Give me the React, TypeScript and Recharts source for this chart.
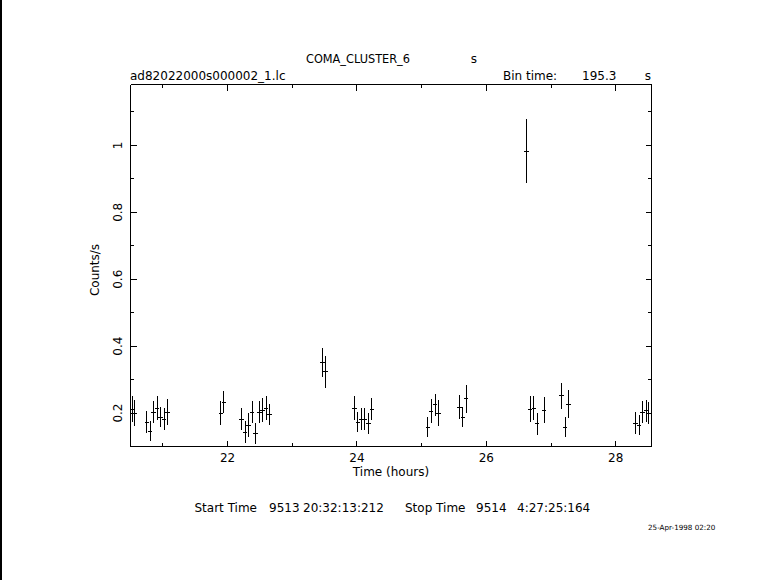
import React from "react";
import { ComposedChart, Scatter, ErrorBar, XAxis, YAxis } from "recharts";

// Light curve: time (hours), count rate (counts/s), 1-sigma error
const TIME_H = [
  20.529, 20.555, 20.751, 20.802, 20.853, 20.91, 20.961, 21.019, 21.07,
  21.895, 21.941,
  22.213, 22.27, 22.321, 22.379, 22.43, 22.491, 22.538, 22.595, 22.646,
  23.465, 23.512,
  23.96, 24.012, 24.063, 24.114, 24.176, 24.229,
  25.094, 25.145, 25.207, 25.258,
  25.583, 25.635, 25.686,
  26.618, 26.675, 26.733, 26.784, 26.892,
  27.159, 27.216, 27.267,
  28.303, 28.36, 28.411, 28.468, 28.499,
];
const RATE = [
  0.212, 0.2, 0.173, 0.146, 0.203, 0.215, 0.188, 0.182, 0.203,
  0.2, 0.233,
  0.182, 0.143, 0.164, 0.203, 0.138, 0.203, 0.209, 0.215, 0.195,
  0.352, 0.323,
  0.215, 0.173, 0.182, 0.182, 0.168, 0.212,
  0.158, 0.206, 0.225, 0.2,
  0.218, 0.188, 0.242,
  0.983, 0.212, 0.215, 0.168, 0.209,
  0.252, 0.158, 0.227,
  0.17, 0.163, 0.203, 0.207, 0.2,
];
const RATE_ERR = [
  0.039, 0.038, 0.032, 0.029, 0.034, 0.035, 0.031, 0.032, 0.04,
  0.036, 0.033,
  0.034, 0.033, 0.035, 0.033, 0.031, 0.033, 0.035, 0.035, 0.032,
  0.043, 0.047,
  0.035, 0.03, 0.032, 0.032, 0.031, 0.032,
  0.029, 0.037, 0.033, 0.039,
  0.035, 0.03, 0.042,
  0.096, 0.04, 0.035, 0.033, 0.038,
  0.039, 0.029, 0.041,
  0.032, 0.03, 0.033, 0.033, 0.033,
];
const HALF_BIN_H = 0.034;

const X_DOMAIN = [20.5, 28.553];
const Y_DOMAIN = [0.1, 1.182];
const X_MAJOR = [22, 24, 26, 28];
const X_MINOR = [21, 23, 25, 27];
const Y_MAJOR = [0.2, 0.4, 0.6, 0.8, 1];
const Y_MINOR = [0.3, 0.5, 0.7, 0.9, 1.1];
const X_TICKS = [...X_MINOR, ...X_MAJOR].sort((a, b) => a - b);
const Y_TICKS = [...Y_MINOR, ...Y_MAJOR].sort((a, b) => a - b);

const data = TIME_H.map((t, i) => ({
  t,
  rate: RATE[i],
  err: RATE_ERR[i],
  xerr: HALF_BIN_H,
}));

const FONT = "'DejaVu Sans', sans-serif";
const MAJOR_LEN = 6;
const MINOR_LEN = 3.5;

const isMajor = (v: number, list: number[]) => list.some((m) => Math.abs(m - v) < 1e-9);

const makeTick = (side: "left" | "right" | "top" | "bottom", majors: number[], label: boolean) =>
  (props: any) => {
    const { x, y, payload } = props;
    const v = payload.value;
    const len = isMajor(v, majors) ? MAJOR_LEN : MINOR_LEN;
    let line;
    if (side === "left") line = <line x1={x} x2={x + len} y1={y} y2={y} stroke="#000" />;
    else if (side === "right") line = <line x1={x} x2={x - len} y1={y} y2={y} stroke="#000" />;
    else if (side === "bottom") line = <line x1={x} x2={x} y1={y} y2={y - len} stroke="#000" />;
    else line = <line x1={x} x2={x} y1={y} y2={y + len} stroke="#000" />;
    let txt = null;
    if (label && isMajor(v, majors)) {
      if (side === "left") {
        const lx = x - 12.5;
        txt = (
          <text x={lx} y={y} transform={`rotate(-90 ${lx} ${y})`} textAnchor="middle"
            dominantBaseline="central" fontFamily={FONT} fontSize={12} fill="#000">
            {String(v)}
          </text>
        );
      } else if (side === "bottom") {
        txt = (
          <text x={x} y={y + 11.5} textAnchor="middle" dominantBaseline="central"
            fontFamily={FONT} fontSize={12} fill="#000">
            {String(v)}
          </text>
        );
      }
    }
    return (
      <g>
        {line}
        {txt}
      </g>
    );
  };

const axisCommon = {
  type: "number" as const,
  allowDataOverflow: true,
  axisLine: { stroke: "#000", strokeWidth: 1 },
  tickLine: false,
  tickSize: 0,
  tickMargin: 0,
  interval: 0 as const,
};

const T = (p: any) => (
  <text fontFamily={FONT} fontSize={12} fill="#000" dominantBaseline="central" {...p} />
);

export default function App() {
  return (
    <div
      style={{
        position: "absolute",
        left: 0,
        top: 0,
        width: 781,
        height: 580,
        background: "#fff",
        overflow: "hidden",
      }}
    >
      <style>{".recharts-wrapper line { shape-rendering: crispEdges; }"}</style>
      <div style={{ position: "absolute", left: 0, top: 0, width: 2, height: 580, background: "#000" }} />
      <ComposedChart
        width={781}
        height={580}
        data={data}
        margin={{ left: 129.5, right: 128.5, top: 83.5, bottom: 132.5 }}
      >
        <XAxis
          {...axisCommon}
          xAxisId="x"
          dataKey="t"
          domain={X_DOMAIN}
          ticks={X_TICKS}
          height={1}
          tick={makeTick("bottom", X_MAJOR, true)}
        />
        <XAxis
          {...axisCommon}
          xAxisId="xtop"
          orientation="top"
          dataKey="t"
          domain={X_DOMAIN}
          ticks={X_TICKS}
          height={1}
          tick={makeTick("top", X_MAJOR, false)}
        />
        <YAxis
          {...axisCommon}
          yAxisId="y"
          domain={Y_DOMAIN}
          ticks={Y_TICKS}
          width={1}
          tick={makeTick("left", Y_MAJOR, true)}
        />
        <YAxis
          {...axisCommon}
          yAxisId="yright"
          orientation="right"
          domain={Y_DOMAIN}
          ticks={Y_TICKS}
          width={1}
          tick={makeTick("right", Y_MAJOR, false)}
        />
        <Scatter
          xAxisId="x"
          yAxisId="y"
          dataKey="rate"
          data={data}
          isAnimationActive={false}
          shape={() => <g />}
        >
          <ErrorBar dataKey="err" direction="y" width={0} stroke="#000" strokeWidth={1} isAnimationActive={false} />
          <ErrorBar dataKey="xerr" direction="x" width={0} stroke="#000" strokeWidth={1} isAnimationActive={false} />
        </Scatter>
      </ComposedChart>
      <svg
        width={781}
        height={580}
        style={{ position: "absolute", left: 0, top: 0, pointerEvents: "none" }}
      >
        <T x={358} y={59} textAnchor="middle" textLength={104} lengthAdjust="spacingAndGlyphs">COMA_CLUSTER_6</T>
        <T x={474} y={59} textAnchor="middle">s</T>
        <T x={130} y={76} textAnchor="start">ad82022000s000002_1.lc</T>
        <T x={503} y={76} textAnchor="start">Bin time:</T>
        <T x={582} y={76} textAnchor="start">195.3</T>
        <T x={648} y={76} textAnchor="middle">s</T>
        <T x={95} y={270} textAnchor="middle" transform="rotate(-90 95 270)">Counts/s</T>
        <T x={391} y={472} textAnchor="middle">Time (hours)</T>
        <T x={194.5} y={508} textAnchor="start">Start Time</T>
        <T x={269} y={508} textAnchor="start">9513</T>
        <T x={303} y={508} textAnchor="start">20:32:13:212</T>
        <T x={405} y={508} textAnchor="start">Stop Time</T>
        <T x={476} y={508} textAnchor="start">9514</T>
        <T x={517} y={508} textAnchor="start">4:27:25:164</T>
        <T x={648} y={527} textAnchor="start" fontSize={7.2}>25-Apr-1998 02:20</T>
      </svg>
    </div>
  );
}
